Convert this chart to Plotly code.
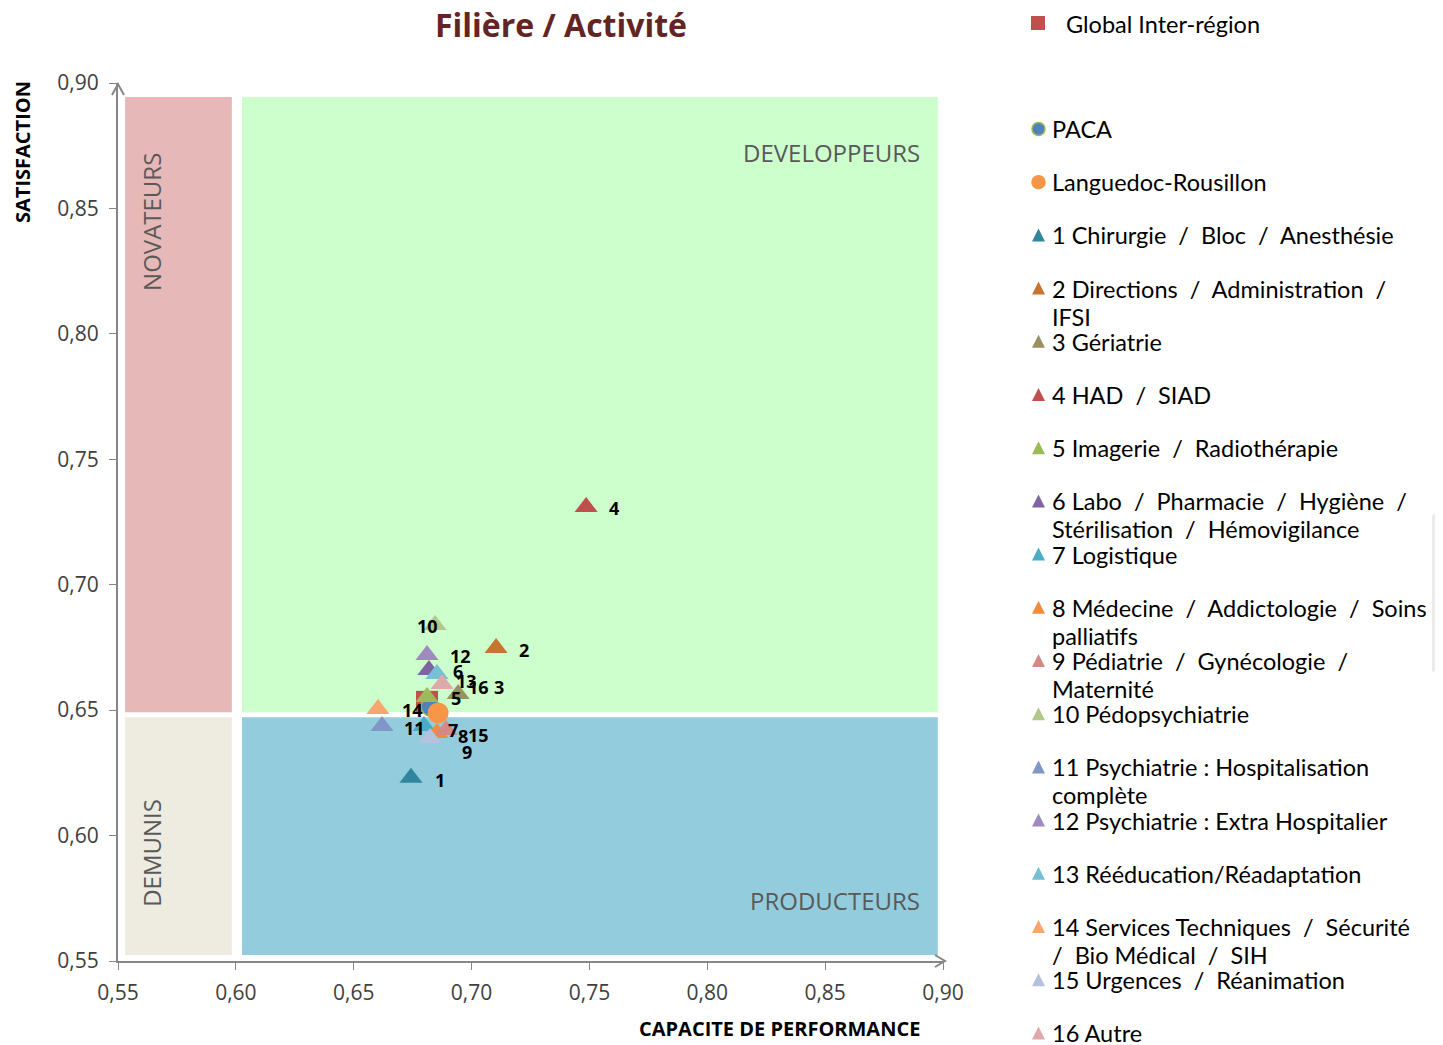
import plotly.graph_objects as go

# ---------------- data ----------------
cat_ids = [str(i) for i in range(1, 17)]
cat_names = [
    "1 Chirurgie  /  Bloc  /  Anesthésie",
    "2 Directions  /  Administration  /<br>IFSI",
    "3 Gériatrie",
    "4 HAD  /  SIAD",
    "5 Imagerie  /  Radiothérapie",
    "6 Labo  /  Pharmacie  /  Hygiène  /<br>Stérilisation  /  Hémovigilance",
    "7 Logistique",
    "8 Médecine  /  Addictologie  /  Soins<br>palliatifs",
    "9 Pédiatrie  /  Gynécologie  /<br>Maternité",
    "10 Pédopsychiatrie",
    "11 Psychiatrie : Hospitalisation<br>complète",
    "12 Psychiatrie : Extra Hospitalier",
    "13 Rééducation/Réadaptation",
    "14 Services Techniques  /  Sécurité<br>/  Bio Médical  /  SIH",
    "15 Urgences  /  Réanimation",
    "16 Autre",
]
perf = [0.6743, 0.7104, 0.6943, 0.7486, 0.6811, 0.6819, 0.6798, 0.6853,
        0.6892, 0.6845, 0.6620, 0.6811, 0.6853, 0.6603, 0.6824, 0.6875]
satis = [0.6230, 0.6748, 0.6564, 0.7310, 0.6552, 0.6660, 0.6437, 0.6409,
         0.6421, 0.6839, 0.6437, 0.6720, 0.6644, 0.6505, 0.6389, 0.6604]
cat_colors = ["#31859C", "#C8742F", "#989161", "#C0504D", "#9BBB59", "#8064A2",
              "#4BACC6", "#F08C3C", "#D48987", "#B3C98A", "#7E97C8", "#9E8ABF",
              "#76BFD5", "#F9A56E", "#B4C2DE", "#DDAAA9"]

global_name = "Global Inter-région"
global_perf = [0.6811]
global_sat = [0.6533]
paca_name = "PACA"
paca_perf = [0.6824]
paca_sat = [0.6513]
lr_name = "Languedoc-Rousillon"
lr_perf = [0.6858]
lr_sat = [0.6489]

axis_ticks = [0.55, 0.60, 0.65, 0.70, 0.75, 0.80, 0.85, 0.90]
perf_threshold = 0.60
satis_threshold = 0.648
quadrant_names = ["NOVATEURS", "DEVELOPPEURS", "DEMUNIS", "PRODUCTEURS"]

# label offsets (pixels: right, down) for data labels
label_dx = [23, 22, 35, 22, 23, 23, 23, 20, 15, -19, 21, 22, 18, 23, 37, 25]
label_dy = [2, 2, -7, 1, 1, 1, 4, 3, 22, 1, 2, 1, 7, 1, -3, 3]

# ---------------- figure ----------------
OFF = 8  # page body margin
L, R, T, B = 118, 943, 83, 961   # plot area in page pixels
W, H = 1443, 1045


def px(x):
    return (x - L) / (R - L)


def py(y):
    return (B - y) / (B - T)


fig = go.Figure()

# quadrant backgrounds
gap_x = 0.0017
gap_y = 0.0012
quads = [
    (0.553, perf_threshold - gap_x, satis_threshold + gap_y, 0.8944, "#E6B9B8"),
    (perf_threshold + 0.0026, 0.8978, satis_threshold + gap_y, 0.8944, "#CCFFCC"),
    (0.553, perf_threshold - gap_x, 0.5524, satis_threshold - 0.0008, "#EEECE1"),
    (perf_threshold + 0.0026, 0.8978, 0.5524, satis_threshold - 0.0008, "#93CDDD"),
]
for x0, x1, y0, y1, c in quads:
    fig.add_shape(type="rect", xref="x", yref="y", x0=x0, x1=x1, y0=y0, y1=y1,
                  fillcolor=c, line=dict(width=0), layer="below")

qfont = dict(family="Open Sans", size=24, color="#595959")
fig.add_annotation(x=0.5644, y=0.8446, text=quadrant_names[0], textangle=-90,
                   showarrow=False, font=qfont, xanchor="center", yanchor="middle")
fig.add_annotation(x=0.8911, y=0.8721, text=quadrant_names[1],
                   showarrow=False, font=qfont, xanchor="right", yanchor="middle")
fig.add_annotation(x=0.5644, y=0.5931, text=quadrant_names[2], textangle=-90,
                   showarrow=False, font=qfont, xanchor="center", yanchor="middle")
fig.add_annotation(x=0.8911, y=0.5743, text=quadrant_names[3],
                   showarrow=False, font=qfont, xanchor="right", yanchor="middle")

# data traces
fig.add_trace(go.Scatter(x=global_perf, y=global_sat, mode="markers", name=global_name,
                         marker=dict(symbol="square", size=22, color="#C0504D"),
                         showlegend=False))
fig.add_trace(go.Scatter(x=paca_perf, y=paca_sat, mode="markers", name=paca_name,
                         marker=dict(symbol="circle", size=18, color="#4F81BD",
                                     line=dict(color="#9BBB59", width=1.5)),
                         showlegend=False))
fig.add_trace(go.Scatter(x=lr_perf, y=lr_sat, mode="markers", name=lr_name,
                         marker=dict(symbol="circle", size=21, color="#F79646"),
                         showlegend=False))
for i in range(16):
    fig.add_trace(go.Scatter(x=[perf[i]], y=[satis[i]], mode="markers",
                             name=cat_names[i].replace("<br>", " "),
                             marker=dict(symbol="triangle-up", size=20, color=cat_colors[i]),
                             showlegend=False))

# data labels
for i in range(16):
    fig.add_annotation(x=perf[i], y=satis[i], text="<b>%s</b>" % cat_ids[i],
                       showarrow=False, xanchor="left", yanchor="middle",
                       xshift=label_dx[i] - 1, yshift=-label_dy[i],
                       font=dict(family="Open Sans", size=18, color="#000000"))

# custom legend (right side)
lfont = dict(family="Lato", size=23.5, color="#000000")
legend_entries = [(paca_name, "circle", "#4F81BD"), (lr_name, "circle", "#F79646")] + \
                 [(cat_names[i], "triangle", cat_colors[i]) for i in range(16)]

fig.add_shape(type="rect", xref="paper", yref="paper",
              x0=px(1031), x1=px(1045), y0=py(30), y1=py(16),
              fillcolor="#C0504D", line=dict(width=0))
fig.add_annotation(xref="paper", yref="paper", x=px(1064), y=py(24), text=global_name,
                   showarrow=False, xanchor="left", yanchor="middle", font=lfont)

for k, (name, sym, col) in enumerate(legend_entries):
    yc = 129 + 53.2 * k
    if sym == "circle":
        fig.add_shape(type="circle", xref="paper", yref="paper",
                      x0=px(1032), x1=px(1045), y0=py(yc + 6.5), y1=py(yc - 6.5),
                      fillcolor=col,
                      line=dict(color="#9BBB59" if name == paca_name else col, width=1.5))
    else:
        path = "M %f %f L %f %f L %f %f Z" % (px(1032), py(yc + 6), px(1045), py(yc + 6),
                                              px(1038.5), py(yc - 7))
        fig.add_shape(type="path", xref="paper", yref="paper", path=path,
                      fillcolor=col, line=dict(width=0))
    for j, line in enumerate(name.split("<br>")):
        fig.add_annotation(xref="paper", yref="paper", x=px(1050), y=py(yc + 28 * j),
                           text=line, showarrow=False, xanchor="left", yanchor="middle",
                           font=lfont)

# gray artifact at right border
fig.add_shape(type="path", xref="paper", yref="paper",
              path="M %f %f L %f %f L %f %f L %f %f Z" % (px(1432), py(516), px(1443), py(505),
                                                          px(1443), py(668), px(1432), py(672)),
              fillcolor="#EBEBEB", line=dict(width=0))

# axis arrows (open V heads)
fig.add_shape(type="path", xref="paper", yref="paper",
              path="M %f %f L %f %f L %f %f" % (px(935), py(955), px(945), py(961),
                                               px(935), py(967)),
              line=dict(color="#868686", width=2))
fig.add_shape(type="path", xref="paper", yref="paper",
              path="M %f %f L %f %f L %f %f" % (px(112), py(95), px(118), py(84),
                                               px(124), py(95)),
              line=dict(color="#868686", width=2))

# title and axis titles
fig.add_annotation(xref="paper", yref="paper", x=px(561), y=py(1),
                   text="<b>Filière / Activité</b>", showarrow=False,
                   xanchor="center", yanchor="top",
                   font=dict(family="Open Sans", size=32, color="#632523"))
fig.add_annotation(xref="paper", yref="paper", x=px(22), y=py(152),
                   text="<b>SATISFACTION</b>", textangle=-90, showarrow=False,
                   xanchor="center", yanchor="middle",
                   font=dict(family="Open Sans", size=20, color="#000000"))
fig.add_annotation(xref="paper", yref="paper", x=px(779), y=py(1029),
                   text="<b>CAPACITE DE PERFORMANCE</b>", showarrow=False,
                   xanchor="center", yanchor="middle",
                   font=dict(family="Open Sans", size=20, color="#000000"))

axis_common = dict(
    tickvals=axis_ticks, tickformat=".2f", showgrid=False, zeroline=False,
    showline=True, linecolor="#868686", linewidth=2, ticks="outside",
    ticklen=7, tickcolor="#868686", tickwidth=1,
    tickfont=dict(family="Open Sans", size=21, color="#404040"),
)
fig.update_xaxes(range=[0.55, 0.90], ticklabelstandoff=5, **axis_common)
fig.update_yaxes(range=[0.55, 0.90], ticklabelstandoff=6, **axis_common)

fig.update_layout(
    width=W, height=H, autosize=False,
    margin=dict(l=L - OFF, r=W - R + OFF, t=T - OFF, b=H - B + OFF, pad=0),
    plot_bgcolor="white", paper_bgcolor="white",
    separators=", ",
    showlegend=False,
)

fig.write_html("out.html")
